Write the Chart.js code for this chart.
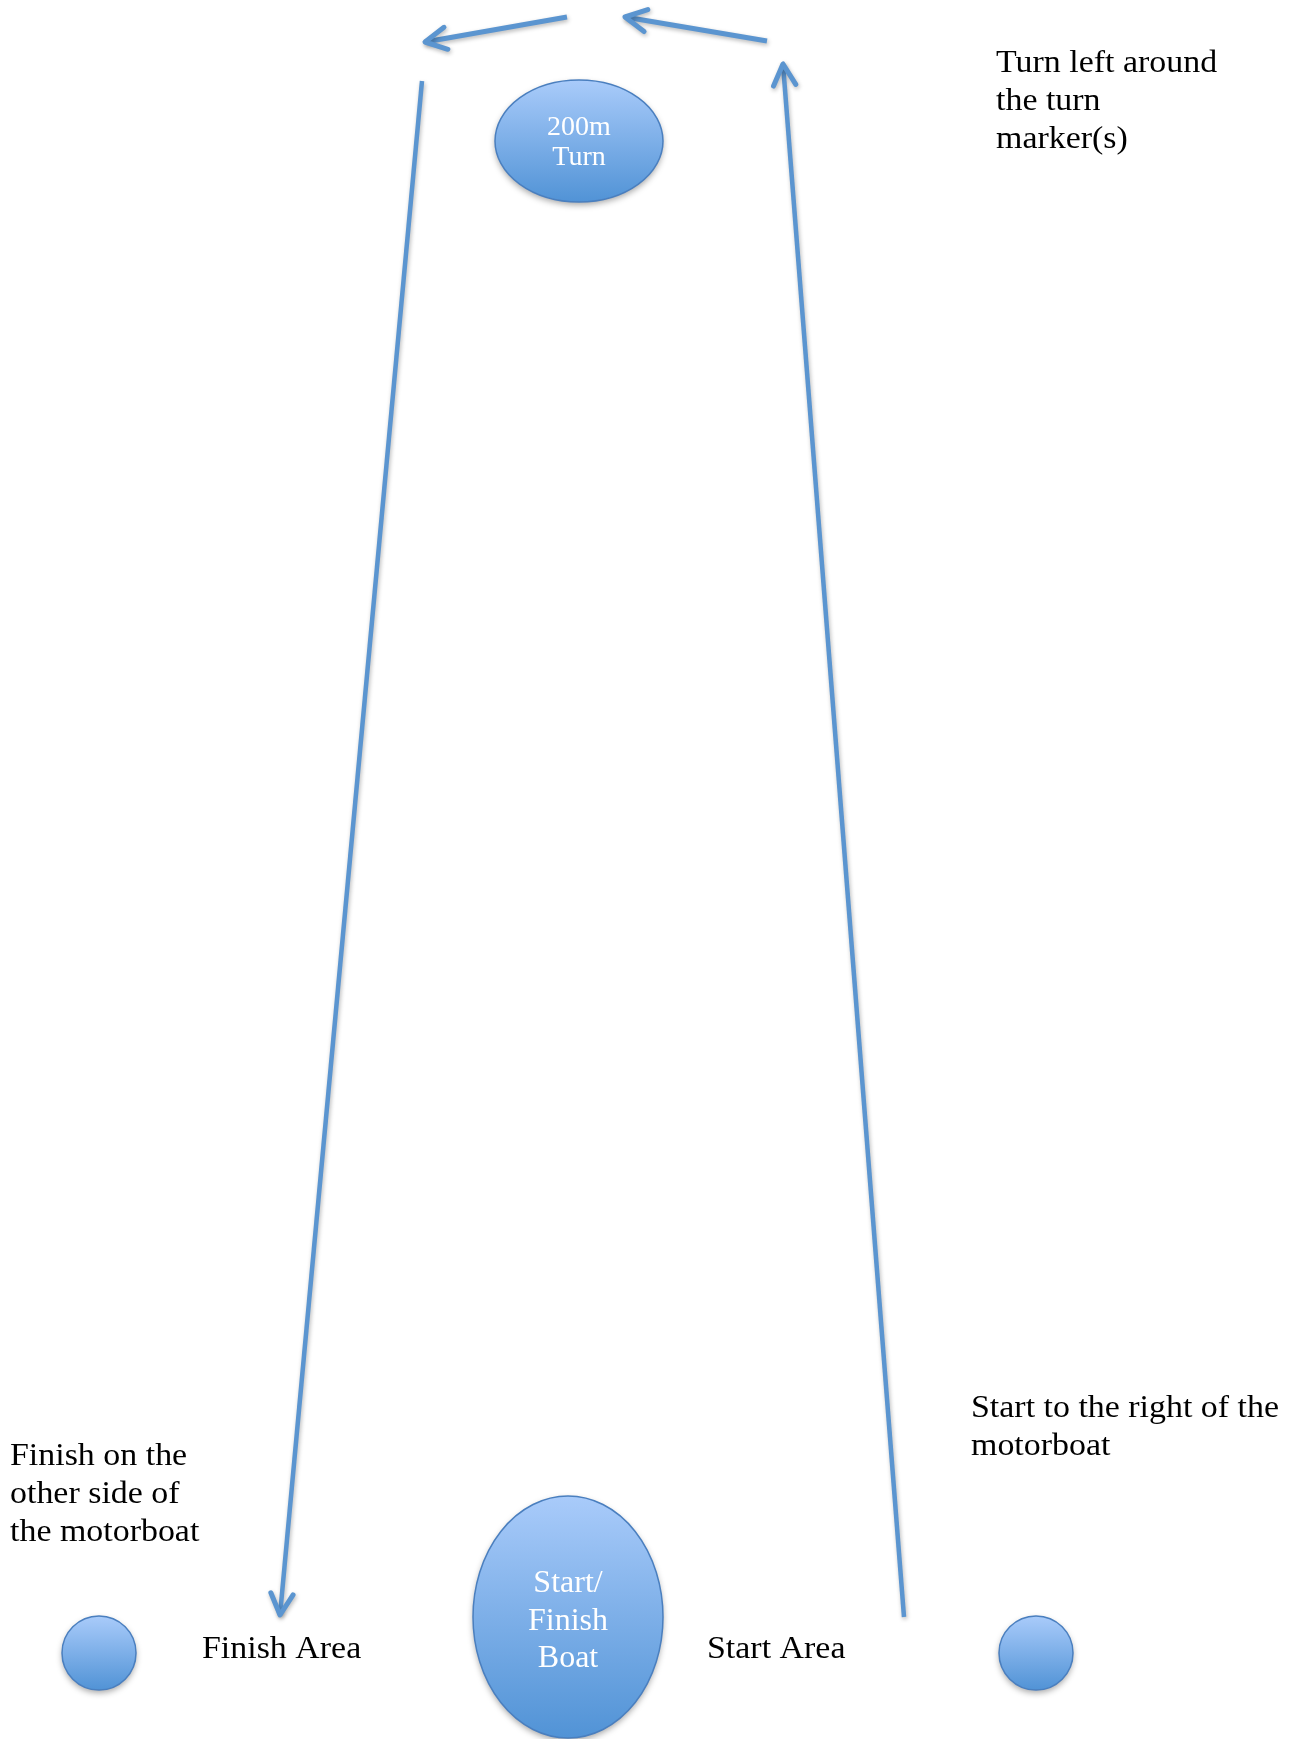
<!DOCTYPE html>
<html>
<head>
<meta charset="utf-8">
<script src="https://cdn.jsdelivr.net/npm/chart.js@4"></script>
<style>
  html, body { margin: 0; padding: 0; background: #fff; overflow: hidden; }
  #course { display: block; }
</style>
</head>
<body>
<canvas id="course" width="1301" height="1739"></canvas>
<script>
// course legs, in course units (the axes span 0..1301 by 0..1739, y downwards)
const legNames = ['Start leg', 'Turn right part', 'Turn left part', 'Finish leg'];
const legX = [[904, 783], [767, 625], [567, 425], [422, 280]];
const legY = [[1617, 64], [41, 17], [17, 42], [81, 1615]];

// marks and boats
const markNames = ['200m Turn', 'Start/Finish Boat', 'Finish mark', 'Start mark'];
const markX = [579, 568, 99, 1036];
const markY = [141, 1617, 1653, 1653];
const markRX = [84, 95, 37, 37];
const markRY = [61, 121, 37, 37];
const markText = [['200m', 'Turn'], ['Start/', 'Finish', 'Boat'], [], []];

// notes
const noteText = [
  ['Turn left around', 'the turn', 'marker(s)'],
  ['Start to the right of the', 'motorboat'],
  ['Finish on the', 'other side of', 'the motorboat'],
  ['Finish Area'],
  ['Start Area']
];
const noteX = [996, 971, 10, 202, 707];
const noteY = [72, 1417, 1465, 1658, 1658];

const BLUE = '#5b95d0';
const SERIF = '"Liberation Serif", "DejaVu Serif", serif';

const shadowPlugin = {
  id: 'lineShadow',
  beforeDatasetDraw(chart) {
    const ctx = chart.ctx;
    ctx.save();
    ctx.shadowColor = 'rgba(0,0,0,0.28)';
    ctx.shadowBlur = 4;
    ctx.shadowOffsetX = 1;
    ctx.shadowOffsetY = 2;
  },
  afterDatasetDraw(chart, args) {
    const ctx = chart.ctx;
    const pts = chart.getDatasetMeta(args.index).data;
    const a = pts[pts.length - 2], b = pts[pts.length - 1];
    const ang = Math.atan2(b.y - a.y, b.x - a.x);
    const len = 24, spread = Math.PI / 6.5;
    ctx.strokeStyle = BLUE;
    ctx.lineWidth = 5;
    ctx.lineCap = 'round';
    ctx.lineJoin = 'round';
    ctx.beginPath();
    ctx.moveTo(b.x - len * Math.cos(ang - spread), b.y - len * Math.sin(ang - spread));
    ctx.lineTo(b.x, b.y);
    ctx.lineTo(b.x - len * Math.cos(ang + spread), b.y - len * Math.sin(ang + spread));
    ctx.stroke();
    ctx.restore();
  }
};

const marksPlugin = {
  id: 'marks',
  afterDatasetsDraw(chart) {
    const ctx = chart.ctx;
    const xs = chart.scales.x, ys = chart.scales.y;
    markNames.forEach((name, i) => {
      const cx = xs.getPixelForValue(markX[i]);
      const cy = ys.getPixelForValue(markY[i]);
      const rx = Math.abs(xs.getPixelForValue(markX[i] + markRX[i]) - cx);
      const ry = Math.abs(ys.getPixelForValue(markY[i] + markRY[i]) - cy);
      const grad = ctx.createLinearGradient(0, cy - ry, 0, cy + ry);
      grad.addColorStop(0, '#a9cbfa');
      grad.addColorStop(1, '#5193d6');
      ctx.save();
      ctx.shadowColor = 'rgba(0,0,0,0.35)';
      ctx.shadowBlur = 6;
      ctx.shadowOffsetY = 3;
      ctx.beginPath();
      ctx.ellipse(cx, cy, rx, ry, 0, 0, Math.PI * 2);
      ctx.fillStyle = grad;
      ctx.fill();
      ctx.restore();
      ctx.beginPath();
      ctx.ellipse(cx, cy, rx, ry, 0, 0, Math.PI * 2);
      ctx.strokeStyle = '#4a7fbf';
      ctx.lineWidth = 1.5;
      ctx.stroke();

      const lines = markText[i];
      if (!lines.length) return;
      const big = lines.length > 2;
      const size = big ? 32 : 28;
      const step = big ? 37.5 : 30;
      const first = big ? -25 : -6;
      ctx.fillStyle = '#ffffff';
      ctx.font = size + 'px ' + SERIF;
      ctx.textAlign = 'center';
      ctx.textBaseline = 'alphabetic';
      lines.forEach((t, k) => ctx.fillText(t, cx, cy + first + k * step));
    });

    // black notes, stretched a little to match the wider original face
    ctx.fillStyle = '#000';
    ctx.font = '32px ' + SERIF;
    ctx.textAlign = 'left';
    ctx.textBaseline = 'alphabetic';
    noteText.forEach((lines, i) => {
      const x0 = xs.getPixelForValue(noteX[i]);
      lines.forEach((t, k) => {
        const y0 = ys.getPixelForValue(noteY[i] + k * 38);
        ctx.save();
        ctx.translate(x0, y0);
        ctx.scale(1.06, 1);
        ctx.fillText(t, 0, 0);
        ctx.restore();
      });
    });
  }
};

new Chart(document.getElementById('course'), {
  type: 'scatter',
  data: {
    datasets: legNames.map((name, i) => ({
      label: name,
      data: legX[i].map((x, k) => ({ x, y: legY[i][k] })),
      showLine: true,
      borderColor: BLUE,
      borderWidth: i === 1 || i === 2 ? 5 : 4.5,
      borderCapStyle: 'butt',
      pointRadius: 0,
      pointHoverRadius: 0,
      fill: false
    }))
  },
  options: {
    responsive: false,
    animation: false,
    devicePixelRatio: 1,
    layout: { padding: 0 },
    events: [],
    plugins: {
      legend: { display: false },
      tooltip: { enabled: false }
    },
    scales: {
      x: { type: 'linear', min: 0, max: 1301, display: false },
      y: { type: 'linear', min: 0, max: 1739, reverse: true, display: false }
    }
  },
  plugins: [shadowPlugin, marksPlugin]
});
</script>
</body>
</html>
